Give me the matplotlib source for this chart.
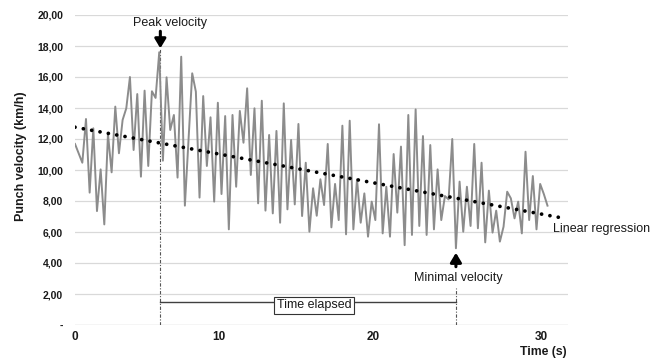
"""Punch velocity over time with peak/minimum markers and a linear trend."""

import numpy as np
import matplotlib

matplotlib.use("Agg")
import matplotlib.pyplot as plt

# punch velocity (km/h), one value per punch
velocity = [
    11.68, 11.08, 10.47, 13.29, 8.54, 12.69, 7.35, 10.04, 6.49, 12.32,
    9.85, 14.09, 11.08, 13.23, 13.98, 16.00, 11.29, 14.90, 9.57, 15.12,
    10.26, 15.08, 14.65, 17.60, 10.60, 15.98, 12.58, 13.55, 9.51, 17.31,
    7.70, 12.00, 16.24, 15.05, 8.22, 14.77, 10.26, 13.40, 7.96, 14.34,
    8.45, 13.48, 6.17, 13.55, 8.92, 13.81, 11.76, 15.27, 9.68, 13.98,
    7.85, 14.47, 7.38, 12.26, 7.20, 12.52, 6.60, 14.30, 7.46, 11.94,
    7.78, 12.97, 7.03, 10.47, 6.02, 8.82, 7.05, 9.40, 7.74, 11.68,
    6.30, 9.10, 6.77, 12.86, 5.85, 13.18, 6.17, 9.40, 6.60, 8.49,
    5.70, 7.96, 6.77, 12.95, 5.91, 8.92, 5.70, 11.03, 7.25, 11.51,
    5.15, 13.55, 5.81, 13.91, 6.39, 12.19, 5.81, 11.61, 6.17, 10.04,
    6.77, 8.32, 8.10, 12.00, 4.95, 9.25, 6.02, 8.92, 6.39, 11.68,
    6.24, 10.47, 5.33, 8.67, 5.96, 7.38, 5.38, 6.34, 8.60, 8.17,
    6.88, 7.96, 5.91, 11.18, 6.77, 9.61, 6.17, 9.10, 8.45, 7.70,
]

# category axis: time labels sit at these punch indices
x_tick_pos = [0, 39.3, 81.4, 127.2]
x_tick_labels = ["0", "10", "20", "30"]

y_ticks = [0, 2, 4, 6, 8, 10, 12, 14, 16, 18, 20]
y_tick_labels = ["-"] + [f"{v:.2f}".replace(".", ",") for v in y_ticks[1:]]

trend_forecast = 4.5  # periods the trendline runs past the last punch

FONT = "Liberation Sans"
TEXT = "#1a1a1a"

v = np.array(velocity)
idx = np.arange(len(v))
peak_i = int(np.argmax(v))
min_i = int(np.argmin(v))

fig = plt.figure(figsize=(6.64, 3.60), dpi=100)
ax = fig.add_axes([75 / 664, 1 - 325 / 360, (568 - 75) / 664, (325 - 15) / 360])

ax.set_xlim(0, 134.6)
ax.set_ylim(0, 20)
for s in ax.spines.values():
    s.set_visible(False)
ax.yaxis.grid(True, color="#d9d9d9", lw=0.9)
ax.set_axisbelow(True)
ax.axhline(0, color="#d9d9d9", lw=0.9, zorder=0)

ax.plot(idx, v, color="#8c8c8c", lw=1.4, zorder=2)

# linear regression, extended forward like an Excel trendline
slope, icpt = np.polyfit(idx, v, 1)
tx = np.array([0, len(v) - 1 + trend_forecast])
ax.plot(tx, icpt + slope * tx, color="black", lw=2.7, linestyle=(0, (0.01, 2.25)),
        dash_capstyle="round", zorder=3)

ax.set_yticks(y_ticks)
ax.set_yticklabels(y_tick_labels, fontfamily=FONT, fontweight="bold", fontsize=7.5, color=TEXT)
ax.set_xticks(x_tick_pos)
ax.set_xticklabels(x_tick_labels, fontfamily=FONT, fontweight="bold", fontsize=8.5, color=TEXT)
ax.tick_params(axis="y", length=0, pad=8.5)
ax.tick_params(axis="x", length=0, pad=4.5)

# peak marker
ax.plot([peak_i + 0.3, peak_i + 0.3], [0, 17.85], color="#555555", lw=0.8,
        linestyle=(0, (3, 1.5, 1, 1.5)), zorder=1)
ax.annotate("", xy=(peak_i + 0.3, 17.85), xytext=(peak_i + 0.3, 18.95),
            arrowprops=dict(arrowstyle="-|>,head_width=0.33,head_length=0.55", lw=2.2,
                            color="black", shrinkA=0, shrinkB=0, mutation_scale=10))
ax.text(25.9, 19.48, "Peak velocity", ha="center", va="center", fontfamily=FONT,
        fontsize=9, color=TEXT)

# minimum marker
ax.plot([min_i, min_i], [0, 2.4], color="#555555", lw=0.8,
        linestyle=(0, (3, 1.5, 1, 1.5)), zorder=1)
ax.annotate("", xy=(min_i, 4.66), xytext=(min_i, 3.76),
            arrowprops=dict(arrowstyle="-|>,head_width=0.33,head_length=0.55", lw=2.2,
                            color="black", shrinkA=0, shrinkB=0, mutation_scale=10))
ax.text(min_i + 0.7, 3.0, "Minimal velocity", ha="center", va="center", fontfamily=FONT,
        fontsize=9, color=TEXT)

# elapsed time bracket
ax.plot([peak_i + 0.3, min_i], [1.48, 1.48], color="#404040", lw=1.0, zorder=2)
ax.text(65.3, 1.27, "Time elapsed", ha="center", va="center", fontfamily=FONT,
        fontsize=9, color=TEXT, zorder=4,
        bbox=dict(boxstyle="square,pad=0.2", fc="white", ec="#333333", lw=0.8))

ax.text(130.5, 6.19, "Linear regression", ha="left", va="center", fontfamily=FONT,
        fontsize=9, color=TEXT, clip_on=False)

fig.text(543 / 664, 1 - 352.5 / 360, "Time (s)", ha="center", va="center",
         fontfamily=FONT, fontweight="bold", fontsize=8.8, color=TEXT)
fig.text(21 / 664, 1 - 156.5 / 360, "Punch velocity (km/h)", rotation=90, ha="center",
         va="center", fontfamily=FONT, fontweight="bold", fontsize=9, color=TEXT)

fig.savefig("out.png", dpi=100)
plt.close(fig)
